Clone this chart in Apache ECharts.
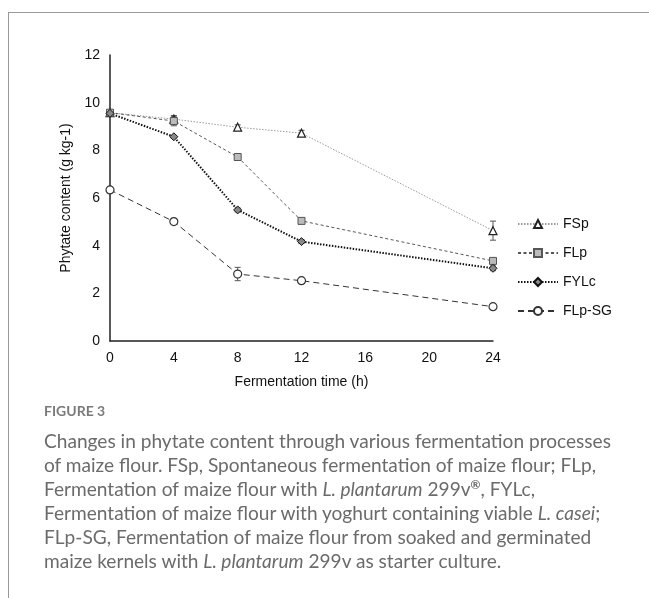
<!DOCTYPE html>
<html>
<head>
<meta charset="utf-8">
<script src="https://cdn.jsdelivr.net/npm/echarts@6/dist/echarts.min.js"></script>
<style>
html, body { margin: 0; padding: 0; background: #fff; }
#wrap { position: relative; width: 649px; height: 598px; overflow: hidden; }
#frame { position: absolute; left: 8px; top: 12px; width: 660px; height: 600px;
  border-left: 1px solid #999; border-top: 1px solid #999; }
#chart { position: absolute; left: 0; top: 0; width: 649px; height: 598px; }
.cap { position: absolute; left: 44px; font-family: Lato, "Open Sans", sans-serif;
  color: #6b6b6b; white-space: nowrap; }
.fig { top: 402px; font-size: 14px; font-weight: bold; color: #7a7a7a; }
.ln { font-size: 19.1px; line-height: 24px; }
.reg { position: relative; top: -7px; font-size: 12px; font-weight: bold; line-height: 0; }
</style>
</head>
<body>
<div id="wrap">
  <div id="frame"></div>
  <div id="chart"></div>
  <div class="cap fig">FIGURE 3</div>
  <div class="cap ln" style="top:429px">Changes in phytate content through various fermentation processes</div>
  <div class="cap ln" style="top:453px">of maize flour. FSp, Spontaneous fermentation of maize flour; FLp,</div>
  <div class="cap ln" style="top:477px">Fermentation of maize flour with <i>L. plantarum</i> 299v<span class="reg">®</span>, FYLc,</div>
  <div class="cap ln" style="top:501px">Fermentation of maize flour with yoghurt containing viable <i>L. casei</i>;</div>
  <div class="cap ln" style="top:525px">FLp-SG, Fermentation of maize flour from soaked and germinated</div>
  <div class="cap ln" style="top:549px">maize kernels with <i>L. plantarum</i> 299v as starter culture.</div>
</div>
<script>
// fermentation time (h)
const times = [0, 4, 8, 12, 24];
const names = ['FSp', 'FLp', 'FYLc', 'FLp-SG'];
// phytate content (g kg-1)
const fsp = [9.58, 9.31, 8.97, 8.72, 4.63];
const flp = [9.58, 9.23, 7.72, 5.04, 3.36];
const fylc = [9.55, 8.57, 5.50, 4.17, 3.05];
const flpsg = [6.34, 5.01, 2.81, 2.53, 1.44];
// standard deviations
const fspErr = [0.05, 0.15, 0.1, 0.12, 0.4];
const flpErr = [0.05, 0.2, 0.1, 0.1, 0.12];
const fylcErr = [0.05, 0.05, 0.08, 0.08, 0.1];
const flpsgErr = [0.05, 0.06, 0.28, 0.08, 0.08];

const chart = echarts.init(document.getElementById('chart'));

function pts (vals) {
  return times.map((t, i) => [t, vals[i]]);
}
function errData (vals, errs) {
  return times.map((t, i) => [t, vals[i] - errs[i], vals[i] + errs[i]]);
}
function errSeries (vals, errs) {
  return {
    type: 'custom',
    silent: true,
    z: 1,
    renderItem: function (params, api) {
      const x = api.value(0);
      const lo = api.coord([x, api.value(1)]);
      const hi = api.coord([x, api.value(2)]);
      const w = 3;
      const st = { stroke: '#555', lineWidth: 1 };
      return {
        type: 'group',
        children: [
          { type: 'line', shape: { x1: lo[0], y1: lo[1], x2: hi[0], y2: hi[1] }, style: st },
          { type: 'line', shape: { x1: lo[0] - w, y1: lo[1], x2: lo[0] + w, y2: lo[1] }, style: st },
          { type: 'line', shape: { x1: hi[0] - w, y1: hi[1], x2: hi[0] + w, y2: hi[1] }, style: st }
        ]
      };
    },
    data: errData(vals, errs)
  };
}

chart.setOption({
  animation: false,
  textStyle: { fontFamily: '"Liberation Sans", Arial, sans-serif' },
  grid: { left: 110, right: 156, top: 55, bottom: 257 },
  xAxis: {
    type: 'value',
    min: 0,
    max: 24,
    interval: 4,
    name: 'Fermentation time (h)',
    nameLocation: 'middle',
    nameGap: 34,
    nameTextStyle: { color: '#111', fontSize: 14 },
    axisLine: { lineStyle: { color: '#222', width: 1.5 } },
    axisTick: { show: false },
    splitLine: { show: false },
    axisLabel: { color: '#111', fontSize: 14, margin: 10 }
  },
  yAxis: {
    type: 'value',
    min: 0,
    max: 12,
    interval: 2,
    name: 'Phytate content (g kg-1)',
    nameLocation: 'middle',
    nameGap: 33,
    nameTextStyle: { color: '#111', fontSize: 14 },
    axisLine: { show: true, lineStyle: { color: '#222', width: 1.5 } },
    axisTick: { show: false },
    splitLine: { show: false },
    axisLabel: { color: '#111', fontSize: 14, margin: 10 }
  },
  legend: {
    orient: 'vertical',
    left: 512,
    top: 212,
    itemWidth: 40,
    itemHeight: 10,
    itemGap: 15,
    textStyle: { color: '#111', fontSize: 14 },
    data: names
  },
  series: [
    errSeries(fsp, fspErr),
    errSeries(flp, flpErr),
    errSeries(fylc, fylcErr),
    errSeries(flpsg, flpsgErr),
    {
      name: names[0],
      type: 'line',
      data: pts(fsp),
      symbol: 'triangle',
      symbolSize: 8,
      z: 3,
      lineStyle: { color: '#9a9a9a', width: 1, type: [1.5, 1.5] },
      itemStyle: { color: '#fff', borderColor: '#222', borderWidth: 1.2 }
    },
    {
      name: names[1],
      type: 'line',
      data: pts(flp),
      symbol: 'rect',
      symbolSize: 7,
      z: 3,
      lineStyle: { color: '#555', width: 1, type: [3, 2.5] },
      itemStyle: { color: '#bbb', borderColor: '#555', borderWidth: 1 }
    },
    {
      name: names[2],
      type: 'line',
      data: pts(fylc),
      symbol: 'diamond',
      symbolSize: 8,
      z: 3,
      lineStyle: { color: '#111', width: 2, type: [1.5, 1.5] },
      itemStyle: { color: '#888', borderColor: '#111', borderWidth: 1 }
    },
    {
      name: names[3],
      type: 'line',
      data: pts(flpsg),
      symbol: 'circle',
      symbolSize: 8,
      z: 3,
      lineStyle: { color: '#333', width: 1, type: [6, 4] },
      itemStyle: { color: '#fff', borderColor: '#333', borderWidth: 1.2 }
    }
  ]
});
</script>
</body>
</html>
